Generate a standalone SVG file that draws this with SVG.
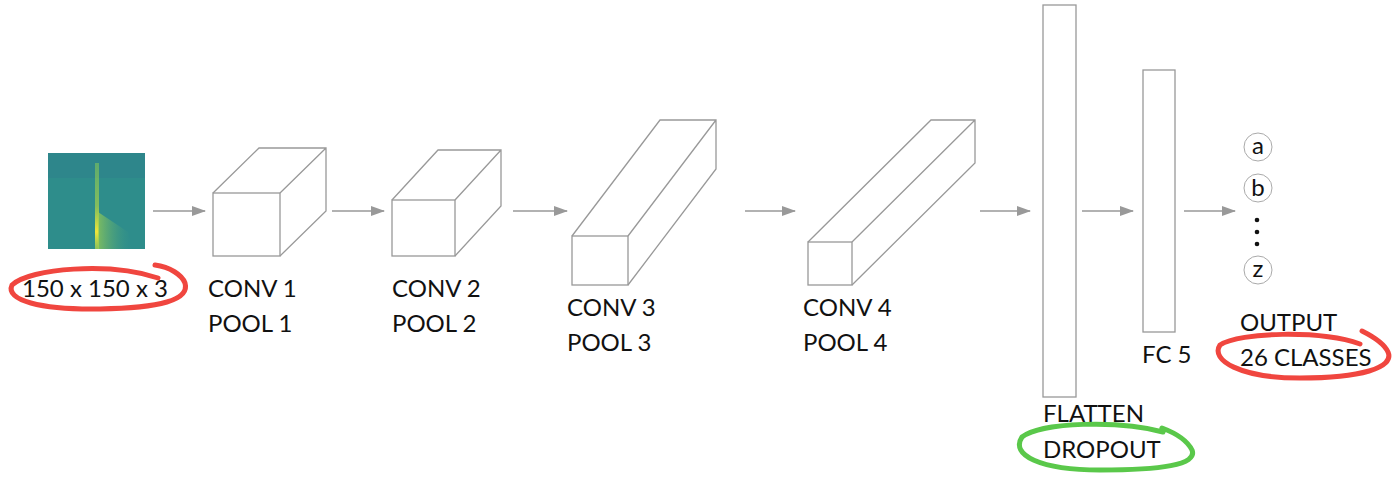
<svg xmlns="http://www.w3.org/2000/svg" width="1400" height="480" viewBox="0 0 1400 480">
<style>
.box{fill:#fff;stroke:#999;stroke-width:1.3}
.ln{fill:none;stroke:#999;stroke-width:1.3}
.con{stroke:#999;stroke-width:1.3;marker-end:url(#ah)}
text{font-family:Lato,"Open Sans",sans-serif;font-size:24px;fill:#111}
.ring{fill:none;stroke-width:5;stroke-linecap:round}
</style>
<defs>
<marker id="ah" markerWidth="14" markerHeight="10" refX="13" refY="5" orient="auto" markerUnits="userSpaceOnUse"><path d="M0,0 L14,5 L0,10 Z" fill="#999"/></marker>
<linearGradient id="sp" x1="0" y1="0" x2="0" y2="1"><stop offset="0" stop-color="#7fc45a" stop-opacity="0.6"/><stop offset="0.5" stop-color="#a8d24a" stop-opacity="0.7"/><stop offset="0.8" stop-color="#f0e53a"/><stop offset="1" stop-color="#b6d74a" stop-opacity="0.7"/></linearGradient>
<linearGradient id="tail" x1="0" y1="0" x2="1" y2="0"><stop offset="0" stop-color="#9ccf50" stop-opacity="0.7"/><stop offset="1" stop-color="#3a9a88" stop-opacity="0"/></linearGradient>
</defs>
<g id="input">
<rect x="48" y="153" width="97" height="96" fill="#2e8d8b"/>
<rect x="48" y="153" width="97" height="25" fill="#2d808c" opacity="0.5"/>
<rect x="95" y="163" width="4" height="86" fill="url(#sp)"/>
<path d="M98,212 L128,232 L132,249 L98,249 Z" fill="url(#tail)"/>
<text x="22" y="297">150 x 150 x 3</text>
</g>
<g id="conv1">
<rect class="box" x="213" y="193" width="67" height="63"/>
<path class="ln" d="M213,193 L259,148 L326,148 L326,211 L280,256 M280,193 L326,148"/>
<text x="208" y="297">CONV 1</text><text x="208" y="332">POOL 1</text>
</g>
<g id="conv2">
<rect class="box" x="392" y="200" width="63" height="56"/>
<path class="ln" d="M392,200 L438,150 L501,150 L501,206 L455,256 M455,200 L501,150"/>
<text x="392" y="297">CONV 2</text><text x="392" y="332">POOL 2</text>
</g>
<g id="conv3">
<rect class="box" x="572" y="236" width="56" height="49"/>
<path class="ln" d="M572,236 L660,120 L716,120 L716,169 L628,285 M628,236 L716,120"/>
<text x="567" y="316">CONV 3</text><text x="567" y="351">POOL 3</text>
</g>
<g id="conv4">
<rect class="box" x="808" y="242" width="44" height="43"/>
<path class="ln" d="M808,242 L931,120 L975,120 L975,163 L852,285 M852,242 L975,120"/>
<text x="803" y="316">CONV 4</text><text x="803" y="351">POOL 4</text>
</g>
<g id="flatten">
<rect class="box" x="1043" y="5" width="33" height="392"/>
<text x="1043" y="422">FLATTEN</text><text x="1043" y="458">DROPOUT</text>
</g>
<g id="fc5">
<rect class="box" x="1143" y="70" width="32" height="262"/>
<text x="1142" y="363">FC 5</text>
</g>
<g id="output">
<circle cx="1258" cy="147" r="14" fill="#fff" stroke="#aaa"/><text x="1258" y="154" text-anchor="middle" font-size="21">a</text>
<circle cx="1258" cy="188" r="14" fill="#fff" stroke="#aaa"/><text x="1258" y="196" text-anchor="middle" font-size="21">b</text>
<circle cx="1257" cy="220" r="2.3" fill="#111"/><circle cx="1257" cy="232" r="2.3" fill="#111"/><circle cx="1257" cy="244" r="2.3" fill="#111"/>
<circle cx="1258" cy="270" r="14" fill="#fff" stroke="#aaa"/><text x="1258" y="277" text-anchor="middle" font-size="21">z</text>
<text x="1240" y="331">OUTPUT</text><text x="1240" y="366">26 CLASSES</text>
</g>
<g id="connectors">
<line class="con" x1="153" y1="211" x2="205" y2="211"/>
<line class="con" x1="332" y1="211" x2="384" y2="211"/>
<line class="con" x1="513" y1="211" x2="567" y2="211"/>
<line class="con" x1="745" y1="211" x2="795" y2="211"/>
<line class="con" x1="980" y1="211" x2="1030" y2="211"/>
<line class="con" x1="1082" y1="211" x2="1133" y2="211"/>
<line class="con" x1="1184" y1="211" x2="1235" y2="211"/>
</g>
<g id="annotations">
<path class="ring" stroke="#f0463f" d="M158,278 C110,262 30,268 12,285 C5,300 40,310 100,309 C160,308 190,300 185,283 C182,275 170,267 155,265"/>
<path class="ring" stroke="#f0463f" d="M1360,344 C1320,330 1240,332 1220,345 C1210,360 1240,378 1300,378 C1360,378 1395,368 1388,352 C1384,343 1372,336 1362,331"/>
<path class="ring" stroke="#5ac84a" d="M1163,432 C1120,420 1040,422 1022,437 C1010,455 1040,470 1100,470 C1160,470 1198,465 1192,450 C1188,442 1178,434 1162,428"/>
</g>
</svg>
